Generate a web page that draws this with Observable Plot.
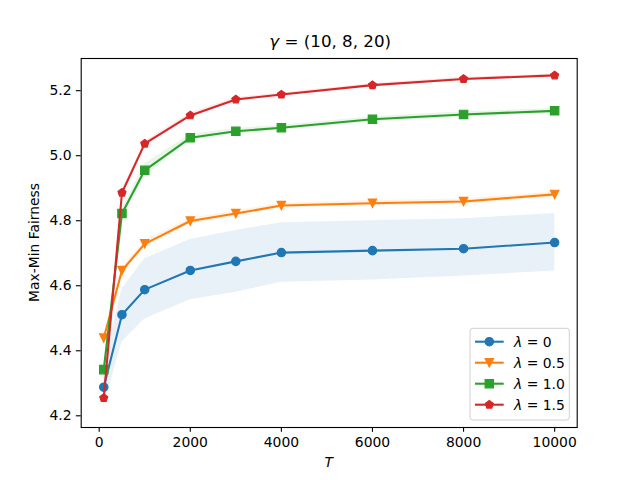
<!DOCTYPE html>
<html>
<head>
<meta charset="utf-8">
<script src="https://cdn.jsdelivr.net/npm/d3@7"></script>
<script src="https://cdn.jsdelivr.net/npm/@observablehq/plot@0.6"></script>
<style>
  html, body { margin: 0; padding: 0; background: white; }
  svg { display: block; }
</style>
</head>
<body>
<div id="chart"></div>
<script>
// ---- data ----
const T = [100, 500, 1000, 2000, 3000, 4000, 6000, 8000, 10000];
const lambdaLabels = ["0", "0.5", "1.0", "1.5"];
const colors = ["#1f77b4", "#ff7f0e", "#2ca02c", "#d62728"];

const mean0 = [4.288, 4.511, 4.588, 4.647, 4.675, 4.702, 4.708, 4.714, 4.733];
const lo0   = [4.226, 4.427, 4.498, 4.557, 4.580, 4.611, 4.618, 4.630, 4.645];
const hi0   = [4.350, 4.590, 4.683, 4.742, 4.770, 4.794, 4.800, 4.806, 4.822];

const mean05 = [4.439, 4.647, 4.729, 4.799, 4.822, 4.847, 4.854, 4.859, 4.881];
const lo05   = [4.428, 4.636, 4.719, 4.790, 4.814, 4.840, 4.846, 4.851, 4.873];
const hi05   = [4.450, 4.658, 4.739, 4.808, 4.830, 4.854, 4.862, 4.867, 4.889];

const mean10 = [4.342, 4.822, 4.955, 5.055, 5.075, 5.086, 5.112, 5.127, 5.138];
const lo10   = [4.330, 4.808, 4.935, 5.045, 5.066, 5.078, 5.104, 5.119, 5.131];
const hi10   = [4.354, 4.836, 4.975, 5.065, 5.084, 5.094, 5.120, 5.135, 5.145];

const mean15 = [4.255, 4.886, 5.037, 5.124, 5.173, 5.188, 5.217, 5.236, 5.247];
const lo15   = [4.248, 4.878, 5.030, 5.117, 5.167, 5.183, 5.212, 5.231, 5.243];
const hi15   = [4.262, 4.894, 5.044, 5.131, 5.179, 5.193, 5.222, 5.241, 5.251];

const xTicks = [0, 2000, 4000, 6000, 8000, 10000];
const yTicks = [4.2, 4.4, 4.6, 4.8, 5.0, 5.2];

// ---- custom matplotlib-like symbols ----
const rOf = size => Math.sqrt(size / Math.PI);
const symCircle = { draw(ctx, size) { const r = rOf(size); ctx.moveTo(r, 0); ctx.arc(0, 0, r, 0, 2 * Math.PI); ctx.closePath(); } };
const symTriDown = { draw(ctx, size) { const r = rOf(size); ctx.moveTo(0, r); ctx.lineTo(-r, -r); ctx.lineTo(r, -r); ctx.closePath(); } };
const symSquare = { draw(ctx, size) { const r = rOf(size); ctx.moveTo(-r, -r); ctx.lineTo(r, -r); ctx.lineTo(r, r); ctx.lineTo(-r, r); ctx.closePath(); } };
const symPentagon = { draw(ctx, size) { const r = rOf(size); for (let k = 0; k < 5; k++) { const a = k * 2 * Math.PI / 5; const px = r * Math.sin(a), py = -r * Math.cos(a); if (k === 0) ctx.moveTo(px, py); else ctx.lineTo(px, py); } ctx.closePath(); } };
const symbols = [symCircle, symTriDown, symSquare, symPentagon];

const means = [mean0, mean05, mean10, mean15];
const los = [lo0, lo05, lo10, lo15];
const his = [hi0, hi05, hi10, hi15];

const series = means.map((m, i) => T.map((t, j) => ({ T: t, mean: m[j], lo: los[i][j], hi: his[i][j] })));

const R = 4.17;
const marks = [];
series.forEach((d, i) => marks.push(Plot.areaY(d, { x: "T", y1: "lo", y2: "hi", fill: colors[i], fillOpacity: 0.1 })));
series.forEach((d, i) => {
  marks.push(Plot.line(d, { x: "T", y: "mean", stroke: colors[i], strokeWidth: 2.08 }));
  marks.push(Plot.dot(d, { x: "T", y: "mean", r: R, symbol: symbols[i], fill: colors[i], stroke: colors[i], strokeWidth: 1.2 }));
});
marks.push(Plot.frame({ stroke: "black", strokeWidth: 1.1 }));
marks.push(Plot.axisX({ ticks: xTicks, tickFormat: d => String(d), tickSize: 4.86, tickPadding: 4.5, strokeWidth: 1.1, label: null }));
marks.push(Plot.axisY({ ticks: yTicks, tickFormat: d => d.toFixed(1), tickSize: 4.86, tickPadding: 4.86, strokeWidth: 1.1, label: null }));

const ML = 80.7, MR = 63.3, MT = 58, MB = 53;
const chart = Plot.plot({
  width: 640, height: 480,
  marginLeft: ML, marginRight: MR, marginTop: MT, marginBottom: MB,
  style: { fontFamily: "DejaVu Sans", fontSize: "13.9px", background: "white", color: "black", overflow: "visible" },
  x: { domain: [-395, 10495] },
  y: { domain: [4.164, 5.299] },
  marks
});
document.getElementById("chart").appendChild(chart);

// ---- title, axis labels, legend ----
const svg = d3.select(chart);
const cx = ML + (640 - ML - MR) / 2;
const cy = MT + (480 - MT - MB) / 2;

const title = svg.append("text").attr("x", cx + 1.5).attr("y", 47).attr("text-anchor", "middle")
  .attr("font-family", "DejaVu Sans").attr("font-size", "16.7px").attr("fill", "black");
title.append("tspan").attr("font-style", "italic").text("γ");
title.append("tspan").text(" = (10, 8, 20)");

svg.append("text").attr("x", cx).attr("y", 466.5).attr("text-anchor", "middle")
  .attr("font-family", "DejaVu Sans").attr("font-size", "13.9px").attr("font-style", "italic").text("T");

svg.append("text").attr("transform", `translate(39,${cy}) rotate(-90)`).attr("text-anchor", "middle")
  .attr("font-family", "DejaVu Sans").attr("font-size", "13.9px").text("Max-Min Fairness");

const lg = svg.append("g");
lg.append("rect").attr("x", 470).attr("y", 328.3).attr("width", 99.3).attr("height", 91.7).attr("rx", 2.8)
  .attr("fill", "white").attr("fill-opacity", 0.8).attr("stroke", "#d0d0d0").attr("stroke-width", 1);
lambdaLabels.forEach((lab, i) => {
  const y = 341.7 + i * 21;
  lg.append("line").attr("x1", 475).attr("x2", 503.7).attr("y1", y).attr("y2", y)
    .attr("stroke", colors[i]).attr("stroke-width", 2.08);
  lg.append("path").attr("d", d3.symbol(symbols[i], Math.PI * R * R)()).attr("transform", `translate(489.3,${y})`)
    .attr("fill", colors[i]).attr("stroke", colors[i]).attr("stroke-width", 1.2);
  const t = lg.append("text").attr("x", 514).attr("y", y + 5).attr("text-anchor", "start")
    .attr("font-family", "DejaVu Sans").attr("font-size", "13.9px").attr("fill", "black");
  t.append("tspan").attr("font-style", "italic").text("λ");
  t.append("tspan").text(" = " + lab);
});
</script>
</body>
</html>
